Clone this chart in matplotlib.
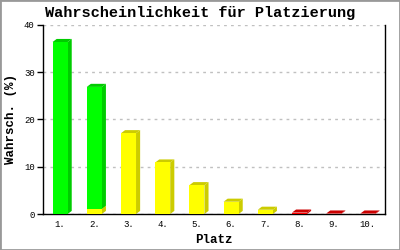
import matplotlib
matplotlib.use("Agg")
import matplotlib.pyplot as plt
from matplotlib.patches import Polygon, Rectangle

# data
places = ["1.", "2.", "3.", "4.", "5.", "6.", "7.", "8.", "9.", "10."]
green = [36.4, 25.8, 0, 0, 0, 0, 0, 0, 0, 0]
yellow = [0, 1.1, 17.1, 10.9, 6.1, 2.6, 0.9, 0, 0, 0]
red = [0, 0, 0, 0, 0, 0, 0, 0.3, 0.1, 0.1]

# front colour, side colour (stacked bottom -> top)
series = [
    (red, "#ff0000", "#cc0000"),
    (yellow, "#ffff00", "#cccc00"),
    (green, "#00ff00", "#00cc00"),
]

plt.rcParams['font.family'] = ['Liberation Mono', 'DejaVu Sans Mono']

fig = plt.figure(figsize=(4, 2.5), dpi=100)
ax = fig.add_axes([0.1075, 0.144, 0.855, 0.756])

width = 0.44
dx, dy = 0.12, 0.65   # depth of the fake 3d effect in data units
xs = range(len(places))

bottoms = [0.0] * len(places)
for vals, front, side in series:
    for i, v in enumerate(vals):
        if v <= 0:
            continue
        x0 = i - width / 2
        b = bottoms[i]
        t = b + v
        ax.add_patch(Polygon([(x0 + width, b), (x0 + width + dx, b + dy),
                              (x0 + width + dx, t + dy), (x0 + width, t)],
                             closed=True, facecolor=side, edgecolor="none", zorder=3))
        ax.add_patch(Polygon([(x0, t), (x0 + width, t),
                              (x0 + width + dx, t + dy), (x0 + dx, t + dy)],
                             closed=True, facecolor=side, edgecolor="none", zorder=3))
    ax.bar(xs, vals, width=width, bottom=bottoms, color=front, zorder=4)
    bottoms = [b + v for b, v in zip(bottoms, vals)]

ax.set_xlim(-0.5, len(places) - 0.5)
ax.set_ylim(0, 40)
ax.set_yticks([0, 10, 20, 30, 40])
ax.set_xticks(list(xs))
ax.set_xticklabels(places)
ax.tick_params(axis="x", length=0, labelsize=6.5, pad=4)
ax.tick_params(axis="y", length=4, width=1, labelsize=6.5, pad=2, direction="out")
ax.yaxis.grid(True, color="#c0c0c0", linestyle=(0, (2, 3)), linewidth=1)
ax.set_axisbelow(True)
for s in ["left", "right", "bottom"]:
    ax.spines[s].set_color("black")
    ax.spines[s].set_linewidth(1)
ax.spines["top"].set_visible(False)

ax.set_xlabel("Platz", fontsize=9, fontweight="bold", labelpad=4)
ax.set_ylabel("Wahrsch. (%)", fontsize=9, fontweight="bold", labelpad=5)
fig.text(0.5, 0.948, "Wahrscheinlichkeit für Platzierung", ha="center", va="center",
         fontsize=11, fontweight="bold")

fig.patches.append(Rectangle((0, 0), 1, 1, transform=fig.transFigure, fill=False,
                             edgecolor="#999999", linewidth=2))

fig.savefig("out.png", dpi=100)
